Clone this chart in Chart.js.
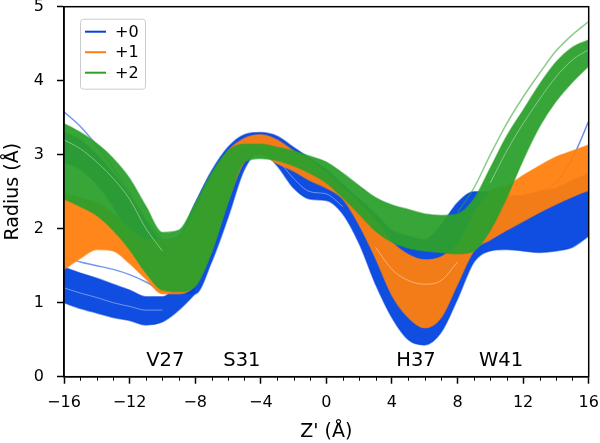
<!DOCTYPE html>
<html>
<head>
<meta charset="utf-8">
<script src="https://cdn.jsdelivr.net/npm/chart.js@4.4.0/dist/chart.umd.min.js"></script>
<style>
  html, body { margin: 0; padding: 0; background: #fff; }
  #wrap { width: 600px; height: 443px; }
</style>
</head>
<body>
<div id="wrap"><canvas id="chart" width="600" height="443"></canvas></div>
<script>
// Z' positions along the pore axis (Å), one sample per Å
const zGrid = [-16, -15, -14, -13, -12, -11, -10, -9, -8, -7, -6, -5, -4, -3, -2, -1, 0,
               1, 2, 3, 4, 5, 6, 7, 8, 9, 10, 11, 12, 13, 14, 15, 16];

// +0 : envelope of the pore-radius traces
const blueUpper = [3.3, 3.2, 3.0, 2.75, 2.45, 2.1, 1.85, 1.9, 2.35, 2.78, 3.1, 3.27, 3.3, 3.25, 3.1, 2.95, 2.8,
                   2.6, 2.4, 2.2, 1.98, 1.9, 1.85, 2.05, 2.35, 2.5, 2.5, 2.45, 2.45, 2.5, 2.55, 2.65, 2.75];
const blueLower = [2.9, 2.8, 2.6, 2.3, 1.9, 1.45, 1.2, 1.15, 1.12, 1.55, 2.15, 2.8, 3.05, 2.85, 2.55, 2.4, 2.38,
                   2.2, 1.8, 1.25, 0.8, 0.5, 0.43, 0.6, 1.05, 1.55, 1.7, 1.72, 1.7, 1.68, 1.7, 1.75, 1.9];
// +0 : narrow cluster near V27
const blueClusterUpper = [1.48, 1.4, 1.33, 1.25, 1.17, 1.08, 1.08, 1.25, 1.45, null, null, null, null, null, null, null, null,
                          null, null, null, null, null, null, null, null, null, null, null, null, null, null, null, null];
const blueClusterLower = [1.0, 0.92, 0.86, 0.8, 0.76, 0.7, 0.74, 0.9, 1.12, null, null, null, null, null, null, null, null,
                          null, null, null, null, null, null, null, null, null, null, null, null, null, null, null, null];
// +0 : stray traces
const blueStrayTop = [3.58, 3.38, 3.12, 2.82, 2.48, 2.12, 1.85, null, null, null, null, null, null, null, null, null, null,
                      null, null, null, null, null, null, null, null, null, null, null, null, null, null, null, null];
const blueStrayMid = [1.62, 1.55, 1.5, 1.45, 1.38, 1.28, 1.15, null, null, null, null, null, null, null, null, null, null,
                      null, null, null, null, null, null, null, null, null, null, null, null, null, null, null, null];
const blueStrayRight = [null, null, null, null, null, null, null, null, null, null, null, null, null, null, null, null, null,
                        null, null, null, null, null, null, null, null, null, null, null, 2.45, 2.5, 2.62, 2.95, 3.45];
// +0 : light gaps between traces
const blueGap = [null, null, null, null, null, null, null, null, null, null, null, null, null, 2.95, 2.68, 2.5, 2.47,
                 2.3, null, null, null, null, null, null, null, null, null, null, null, null, null, null, null];
const blueClusterGap = [1.2, 1.13, 1.07, 1.0, 0.95, 0.9, 0.9, null, null, null, null, null, null, null, null, null, null,
                        null, null, null, null, null, null, null, null, null, null, null, null, null, null, null, null];

// +1
const orangeUpper = [2.48, 2.42, 2.35, 2.2, 2.0, 1.85, 1.85, 1.88, 2.25, 2.7, 3.05, 3.22, 3.27, 3.2, 3.05, 2.92, 2.75,
                     2.55, 2.35, 2.12, 1.82, 1.65, 1.58, 1.62, 1.8, 2.2, 2.5, 2.58, 2.72, 2.85, 2.97, 3.05, 3.13];
const orangeLower = [1.45, 1.6, 1.72, 1.7, 1.53, 1.32, 1.12, 1.12, 1.24, 1.7, 2.37, 2.9, 3.0, 2.88, 2.78, 2.65, 2.55,
                     2.4, 2.05, 1.6, 1.1, 0.8, 0.66, 0.8, 1.25, 1.7, 1.85, 1.98, 2.1, 2.22, 2.33, 2.43, 2.52];
const orangeGap = [null, null, null, null, null, null, null, null, null, null, null, null, null, null, null, null, null,
                   null, null, 1.75, 1.45, 1.3, 1.25, 1.3, 1.55, null, null, null, null, null, null, null, null];

// +2
const greenUpper = [3.42, 3.3, 3.15, 2.95, 2.68, 2.3, 1.95, 1.98, 2.34, 2.75, 3.05, 3.14, 3.14, 3.1, 3.05, 2.98, 2.9,
                    2.75, 2.58, 2.42, 2.32, 2.26, 2.2, 2.18, 2.2, 2.4, 2.82, 3.25, 3.6, 3.95, 4.25, 4.45, 4.55];
const greenLower = [2.4, 2.3, 2.18, 1.98, 1.72, 1.4, 1.17, 1.15, 1.22, 1.68, 2.35, 2.9, 2.95, 2.92, 2.85, 2.75, 2.62,
                    2.42, 2.2, 1.97, 1.82, 1.74, 1.7, 1.68, 1.66, 1.7, 1.98, 2.42, 2.93, 3.38, 3.72, 3.98, 4.2];
const greenStrayTop = [null, null, null, null, null, null, null, null, null, null, null, null, null, null, null, null, null,
                       null, null, null, null, null, null, null, 2.22, 2.55, 3.0, 3.42, 3.78, 4.1, 4.4, 4.62, 4.8];
const greenGapLeft = [3.2, 3.08, 2.9, 2.68, 2.4, 2.0, 1.7, null, null, null, null, null, null, null, null, null, null,
                      null, null, null, null, null, null, null, null, null, null, null, null, null, null, null, null];
const greenGapRight = [null, null, null, null, null, null, null, null, null, null, null, null, null, null, null, null, null,
                       null, null, null, null, null, null, null, null, null, 2.62, 3.05, 3.42, 3.75, 4.05, 4.28, 4.42];

// residue labels placed inside the axes
const residueNames = ['V27', 'S31', 'H37', 'W41'];
const residueZ = [-9.82, -5.15, 5.47, 10.66];
const residueY = 0.21;

const legendNames = ['+0', '+1', '+2'];
const legendColors = ['#0343df', '#ff7f0e', '#2ca02c'];

// keep the nulls so that each trace breaks where it has no value
const toPoints = (vals) => zGrid.map((z, i) => ({ x: z, y: vals[i] }));

const datasets = [];
const addLine = (vals, color, order, extra) => {
  datasets.push(Object.assign({
    data: toPoints(vals),
    borderColor: color,
    borderWidth: 1.5,
    pointRadius: 0,
    fill: false,
    spanGaps: false,
    order: order,
    cubicInterpolationMode: 'monotone'
  }, extra || {}));
  return datasets.length - 1;
};
const addBand = (lower, upper, edge, body, order) => {
  const lo = addLine(lower, edge, order);
  addLine(upper, edge, order, { fill: { target: lo }, backgroundColor: body });
};
const GAP = 'rgba(255,255,255,0.4)';

// blue at the bottom, green on top (lower order is drawn later)
addBand(blueLower, blueUpper, 'rgba(3,67,223,0.55)', 'rgba(3,67,223,0.95)', 3);
addBand(blueClusterLower, blueClusterUpper, 'rgba(3,67,223,0.55)', 'rgba(3,67,223,0.95)', 3);
addLine(blueStrayTop, 'rgba(3,67,223,0.55)', 3);
addLine(blueStrayMid, 'rgba(3,67,223,0.55)', 3);
addLine(blueStrayRight, 'rgba(3,67,223,0.6)', 3);
addLine(blueGap, GAP, 2.5, { borderWidth: 1 });
addLine(blueClusterGap, GAP, 2.5, { borderWidth: 1 });

addBand(orangeLower, orangeUpper, 'rgba(255,127,14,0.55)', 'rgba(255,127,14,0.95)', 2);
addLine(orangeGap, GAP, 1.5, { borderWidth: 1 });

addBand(greenLower, greenUpper, 'rgba(44,160,44,0.55)', 'rgba(44,160,44,0.95)', 1);
addLine(greenStrayTop, 'rgba(44,160,44,0.55)', 1);
addLine(greenGapLeft, GAP, 0.5, { borderWidth: 1 });
addLine(greenGapRight, GAP, 0.5, { borderWidth: 1 });

const FONT = 'DejaVu Sans';

// frame, minor ticks, residue labels and the boxed legend
const decorations = {
  id: 'decorations',
  afterDatasetsDraw(chart) {
    const { ctx, chartArea: a, scales: { x, y } } = chart;
    ctx.save();

    ctx.strokeStyle = '#000';
    ctx.lineWidth = 1.5;
    ctx.strokeRect(a.left, a.top, a.right - a.left, a.bottom - a.top);

    ctx.lineWidth = 1;
    for (const z of zGrid) {
      if (z % 4 === 0) continue;
      const px = Math.round(x.getPixelForValue(z)) + 0.5;
      ctx.beginPath();
      ctx.moveTo(px, a.bottom);
      ctx.lineTo(px, a.bottom + 4);
      ctx.stroke();
    }

    ctx.fillStyle = '#000';
    ctx.font = '19.5px "' + FONT + '"';
    ctx.textAlign = 'center';
    ctx.textBaseline = 'middle';
    residueNames.forEach((name, i) => {
      ctx.fillText(name, x.getPixelForValue(residueZ[i]), y.getPixelForValue(residueY));
    });

    const bx = a.left + 16, by = a.top + 12, bw = 65, bh = 70;
    ctx.beginPath();
    ctx.roundRect(bx + 0.5, by + 0.5, bw, bh, 3);
    ctx.fillStyle = 'rgba(255,255,255,0.8)';
    ctx.fill();
    ctx.strokeStyle = '#cccccc';
    ctx.lineWidth = 1;
    ctx.stroke();

    ctx.font = '16px "' + FONT + '"';
    ctx.textAlign = 'left';
    legendNames.forEach((name, i) => {
      const ly = by + 13 + i * 20.5;
      ctx.strokeStyle = legendColors[i];
      ctx.lineWidth = 2;
      ctx.beginPath();
      ctx.moveTo(bx + 5, ly);
      ctx.lineTo(bx + 26, ly);
      ctx.stroke();
      ctx.fillStyle = '#000';
      ctx.fillText(name, bx + 35, ly + 1);
    });

    ctx.restore();
  }
};

new Chart(document.getElementById('chart'), {
  type: 'line',
  data: { datasets },
  options: {
    responsive: false,
    animation: false,
    layout: { padding: { left: 0, right: 11.3, top: 6.7, bottom: 0 } },
    plugins: {
      legend: { display: false },
      tooltip: { enabled: false },
      filler: { propagate: false }
    },
    scales: {
      x: {
        type: 'linear',
        min: -16,
        max: 16,
        afterFit: (s) => { s.height = 66.3; s.paddingLeft = 0; s.paddingRight = 0; },
        border: { display: true, color: '#000', width: 1.5 },
        grid: {
          drawOnChartArea: false,
          tickLength: 7,
          tickWidth: 1.5,
          tickColor: (c) => (c.tick && c.tick.value % 4 === 0 ? '#000' : 'rgba(0,0,0,0)')
        },
        ticks: {
          stepSize: 1,
          autoSkip: false,
          maxRotation: 0,
          padding: 10,
          color: '#000',
          font: { family: FONT, size: 16 },
          callback: (v) => (v % 4 === 0 ? String(v).replace('-', '\u2212') : '')
        },
        title: {
          display: true,
          text: "Z' (Å)",
          color: '#000',
          font: { family: FONT, size: 19 },
          padding: { top: 0, bottom: 0 }
        }
      },
      y: {
        min: 0,
        max: 5,
        afterFit: (s) => { s.width = 64; s.paddingTop = 0; s.paddingBottom = 0; },
        border: { display: true, color: '#000', width: 1.5 },
        grid: { drawOnChartArea: false, tickLength: 7, tickWidth: 1.5, tickColor: '#000' },
        ticks: {
          stepSize: 1,
          padding: 13,
          color: '#000',
          font: { family: FONT, size: 16 }
        },
        title: {
          display: true,
          text: 'Radius (Å)',
          color: '#000',
          font: { family: FONT, size: 19 },
          padding: { top: 1.6, bottom: 0 }
        }
      }
    }
  },
  plugins: [decorations]
});
</script>
</body>
</html>
